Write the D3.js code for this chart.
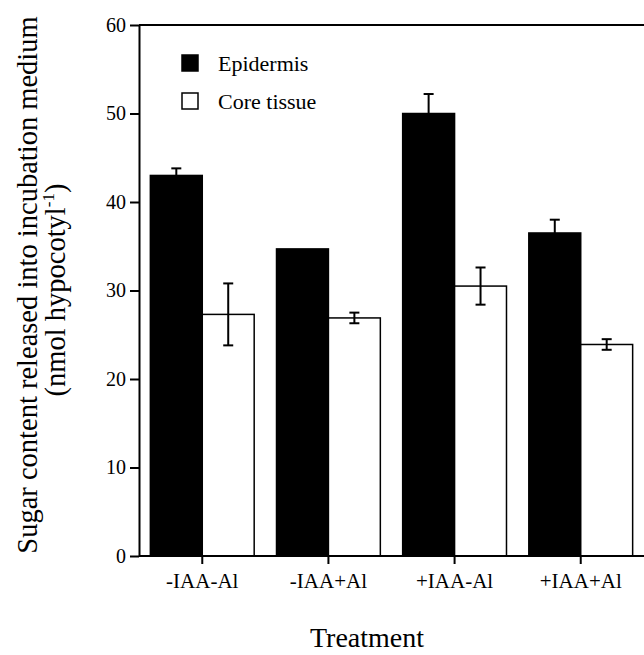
<!DOCTYPE html>
<html>
<head>
<meta charset="utf-8">
<script src="https://cdn.jsdelivr.net/npm/d3@7"></script>
<style>
  body { margin: 0; background: #fff; }
</style>
</head>
<body>
<div id="chart"></div>
<script>
// data
const treatments = ["-IAA-Al", "-IAA+Al", "+IAA-Al", "+IAA+Al"];
const series = ["Epidermis", "Core tissue"];
const epidermis = [43.0, 34.7, 50.0, 36.5];
const epidermisErr = [0.8, 0, 2.2, 1.5];
const core = [27.3, 26.9, 30.5, 23.9];
const coreErr = [3.5, 0.6, 2.1, 0.6];
const yTicks = [0, 10, 20, 30, 40, 50, 60];

const FONT = "'Liberation Serif', 'Times New Roman', Times, serif";
const W = 644, H = 655;
const plot = {left: 139, right: 650, top: 25, bottom: 556};

const svg = d3.select("#chart").append("svg")
  .attr("width", W)
  .attr("height", H)
  .style("font-family", FONT);

const y = d3.scaleLinear().domain([0, 60]).range([plot.bottom, plot.top]);
const x = d3.scaleBand().domain(treatments)
  .range([plot.left, 644])
  .paddingInner(0.177)
  .paddingOuter(0.09);
const xs = d3.scaleBand().domain(series).range([0, x.bandwidth()]);

// rows for drawing
const rows = [];
treatments.forEach((t, i) => {
  rows.push({t: t, s: series[0], v: epidermis[i], e: epidermisErr[i]});
  rows.push({t: t, s: series[1], v: core[i], e: coreErr[i]});
});

// top frame line
svg.append("line")
  .attr("x1", plot.left).attr("x2", plot.right)
  .attr("y1", y(60)).attr("y2", y(60))
  .attr("stroke", "#000").attr("stroke-width", 2);

// bars
svg.append("g")
  .selectAll("rect")
  .data(rows)
  .join("rect")
    .attr("x", d => x(d.t) + xs(d.s))
    .attr("y", d => y(d.v))
    .attr("width", xs.bandwidth())
    .attr("height", d => y(0) - y(d.v))
    .attr("fill", d => d.s === series[0] ? "#000" : "#fff")
    .attr("stroke", "#000")
    .attr("stroke-width", 1.5);

// error bars
const eb = svg.append("g")
  .selectAll("g")
  .data(rows.filter(d => d.e > 0))
  .join("g")
    .attr("transform", d => `translate(${x(d.t) + xs(d.s) + xs.bandwidth() / 2},0)`)
    .attr("stroke", "#000")
    .attr("stroke-width", 2);
eb.append("line")
  .attr("y1", d => y(d.v - d.e)).attr("y2", d => y(d.v + d.e));
eb.append("line")
  .attr("x1", -5).attr("x2", 5)
  .attr("y1", d => y(d.v + d.e)).attr("y2", d => y(d.v + d.e));
eb.append("line")
  .attr("x1", -5).attr("x2", 5)
  .attr("y1", d => y(d.v - d.e)).attr("y2", d => y(d.v - d.e));

// axes
const yAxis = svg.append("g")
  .attr("transform", `translate(${plot.left},0)`)
  .call(d3.axisLeft(y).tickValues(yTicks).tickSize(9).tickSizeOuter(0).tickPadding(4));
yAxis.attr("font-family", null).attr("font-size", null);
yAxis.selectAll("text").style("font-size", "20px").style("font-family", FONT);

const xAxis = svg.append("g")
  .attr("transform", `translate(0,${plot.bottom})`)
  .call(d3.axisBottom(x).tickSize(8).tickSizeOuter(0).tickPadding(9));
xAxis.attr("font-family", null).attr("font-size", null);
xAxis.select(".domain").attr("d", `M${plot.left},0H${plot.right}`);
xAxis.selectAll("text").style("font-size", "21px").style("font-family", FONT);

svg.selectAll(".domain, .tick line").attr("stroke", "#000").attr("stroke-width", 2);

// legend
const legend = svg.append("g")
  .selectAll("g")
  .data(series)
  .join("g")
    .attr("transform", (d, i) => `translate(182,${55 + i * 38})`);
legend.append("rect")
  .attr("width", 16).attr("height", 16)
  .attr("fill", (d, i) => i === 0 ? "#000" : "#fff")
  .attr("stroke", "#000").attr("stroke-width", 1.5);
legend.append("text")
  .attr("x", 36).attr("y", 16)
  .style("font-size", "22px")
  .style("font-family", FONT)
  .text(d => d);

// axis titles
svg.append("text")
  .attr("transform", "translate(37,285) rotate(-90)")
  .attr("text-anchor", "middle")
  .style("font-size", "28.5px")
  .style("font-family", FONT)
  .text("Sugar content released into incubation medium");
const yt2 = svg.append("text")
  .attr("transform", "translate(65,290) rotate(-90)")
  .attr("text-anchor", "middle")
  .style("font-size", "28.5px")
  .style("font-family", FONT);
yt2.append("tspan").text("(nmol hypocotyl");
yt2.append("tspan").attr("dy", -11).style("font-size", "17px").text("-1");
yt2.append("tspan").attr("dy", 11).text(")");

svg.append("text")
  .attr("x", 367).attr("y", 647)
  .attr("text-anchor", "middle")
  .style("font-size", "28px")
  .style("font-family", FONT)
  .text("Treatment");
</script>
</body>
</html>
